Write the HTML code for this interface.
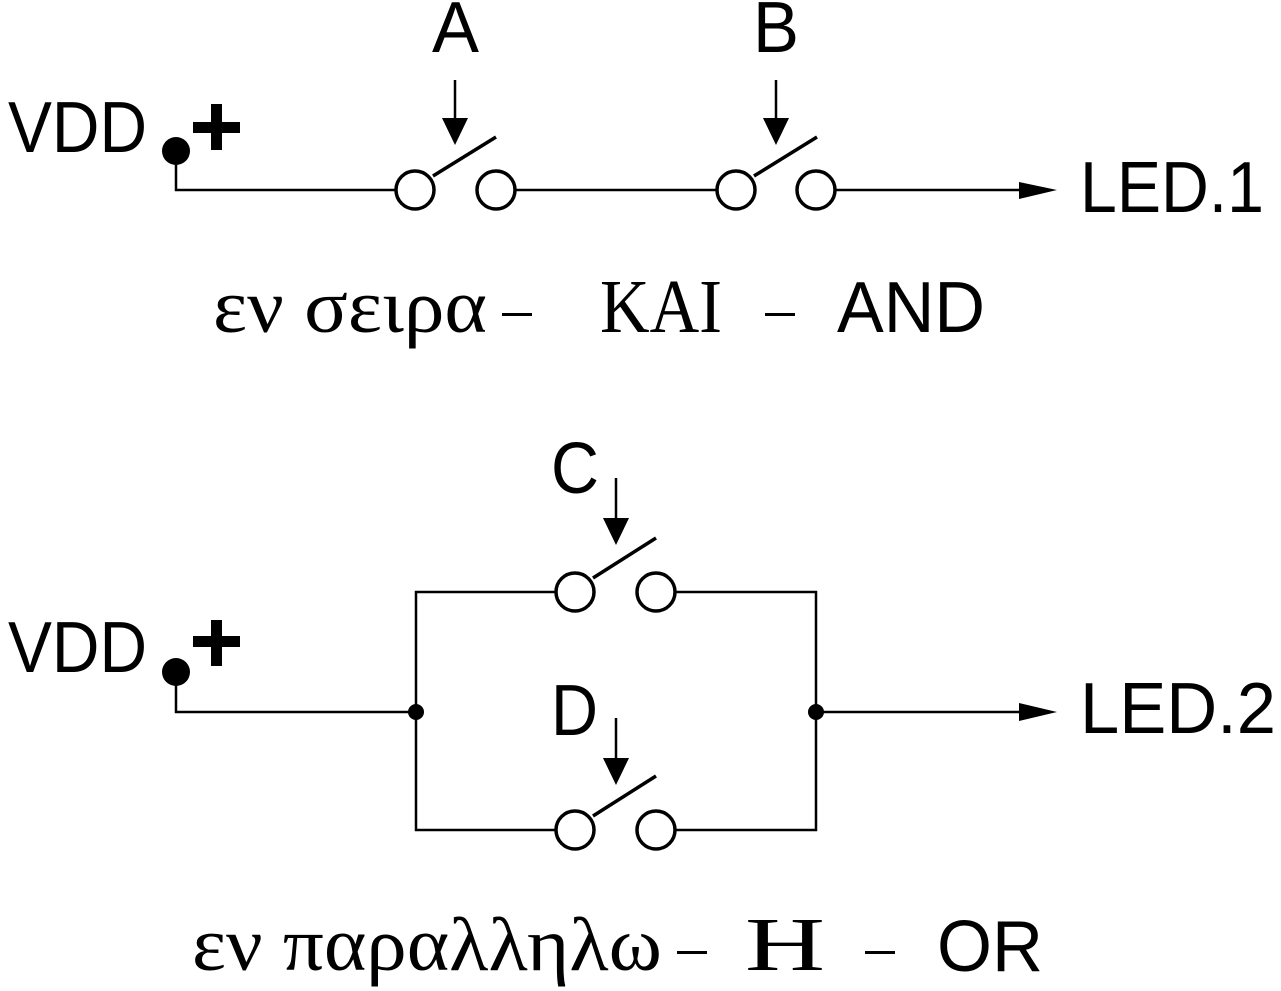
<!DOCTYPE html>
<html><head><meta charset="utf-8"><style>html,body{margin:0;padding:0;background:#fff}svg{display:block}</style></head>
<body>
<svg width="1281" height="991" viewBox="0 0 1281 991" xmlns="http://www.w3.org/2000/svg">
<g fill="none" stroke="#000" stroke-width="2.5">
<polyline points="176,157 176,190 396,190"/>
<line x1="515" y1="190" x2="716" y2="190"/>
<line x1="836" y1="190" x2="1022" y2="190"/>
<circle cx="415" cy="190" r="19" stroke-width="3.5"/>
<circle cx="496" cy="190" r="19" stroke-width="3.5"/>
<circle cx="736" cy="190" r="19" stroke-width="3.5"/>
<circle cx="816" cy="190" r="19" stroke-width="3.5"/>
<line x1="433" y1="176" x2="496" y2="137" stroke-width="3.5"/>
<line x1="754" y1="176" x2="817" y2="137" stroke-width="3.5"/>
<line x1="455" y1="80" x2="455" y2="122"/>
<line x1="776" y1="80" x2="776" y2="122"/>
<polyline points="176,672 176,712 416,712"/>
<polyline points="556,592 416,592 416,830 556,830"/>
<polyline points="675,592 816,592 816,830 675,830"/>
<line x1="816" y1="712" x2="1022" y2="712"/>
<circle cx="575" cy="592" r="19" stroke-width="3.5"/>
<circle cx="656" cy="592" r="19" stroke-width="3.5"/>
<circle cx="575" cy="830" r="19" stroke-width="3.5"/>
<circle cx="656" cy="830" r="19" stroke-width="3.5"/>
<line x1="593" y1="578" x2="656" y2="538" stroke-width="3.5"/>
<line x1="593" y1="816" x2="656" y2="776" stroke-width="3.5"/>
<line x1="616" y1="478" x2="616" y2="520"/>
<line x1="616" y1="718" x2="616" y2="760"/>
</g>
<g fill="#000">
<circle cx="176" cy="151" r="14"/>
<circle cx="176" cy="672" r="14"/>
<circle cx="416" cy="712" r="8"/>
<circle cx="816" cy="712" r="8"/>
<rect x="193" y="122" width="47" height="11"/><rect x="211" y="104" width="11" height="46"/>
<rect x="193" y="636" width="47" height="11"/><rect x="211" y="620" width="11" height="46"/>
<polygon points="442,118 468,118 455,145"/>
<polygon points="763,118 789,118 776,145"/>
<polygon points="603,518 629,518 616,545"/>
<polygon points="603,758 629,758 616,785"/>
<polygon points="1019,182 1057,190 1019,199"/>
<polygon points="1019,703 1057,712 1019,721"/>
</g>
<g font-family="Liberation Sans, sans-serif" font-size="72" fill="#000">
<text x="8" y="152" textLength="139" lengthAdjust="spacingAndGlyphs">VDD</text>
<text x="8" y="672" textLength="139" lengthAdjust="spacingAndGlyphs">VDD</text>
<text x="432" y="52" textLength="47" lengthAdjust="spacingAndGlyphs">A</text>
<text x="753" y="52" textLength="46" lengthAdjust="spacingAndGlyphs">B</text>
<text x="551" y="493" textLength="48" lengthAdjust="spacingAndGlyphs">C</text>
<text x="551" y="735" textLength="47" lengthAdjust="spacingAndGlyphs">D</text>
<text x="1080" y="212" textLength="184" lengthAdjust="spacingAndGlyphs">LED.1</text>
<text x="1080" y="733" textLength="196" lengthAdjust="spacingAndGlyphs">LED.2</text>
<text x="837" y="332" textLength="148" lengthAdjust="spacingAndGlyphs">AND</text>
<text x="937" y="971" textLength="106" lengthAdjust="spacingAndGlyphs">OR</text>
</g>
<g font-family="Liberation Serif, DejaVu Serif, serif" font-size="76" fill="#000">
<text x="213" y="332" textLength="274" lengthAdjust="spacingAndGlyphs">εν σειρα</text>
<text x="600" y="332" textLength="122" lengthAdjust="spacingAndGlyphs">KAI</text>
<text x="192" y="970" textLength="470" lengthAdjust="spacingAndGlyphs">εν παραλληλω</text>
<text x="745" y="970" textLength="80" lengthAdjust="spacingAndGlyphs">H</text>
</g>
<g fill="#000">
<rect x="502" y="313" width="30" height="3"/>
<rect x="765" y="313" width="30" height="3"/>
<rect x="677" y="951" width="30" height="3"/>
<rect x="865" y="951" width="30" height="3"/>
</g>
</svg>
</body></html>
